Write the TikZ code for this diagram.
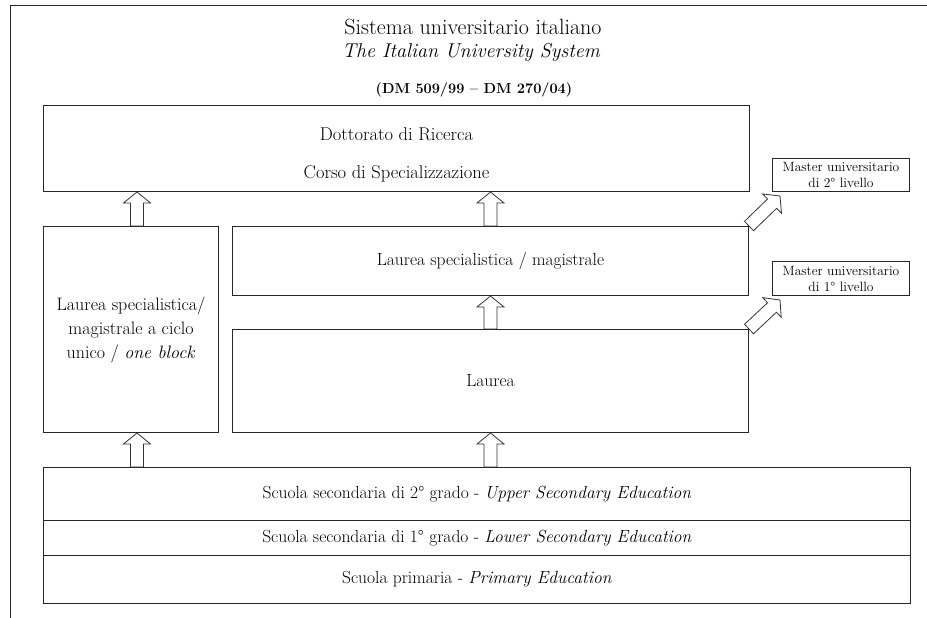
\documentclass[tikz,border=0pt]{standalone}
\usepackage{fontspec}
\usetikzlibrary{calc}

\tikzset{
  frame/.style={draw=black!85, line width=1pt, inner sep=0pt, anchor=north west, align=center,
    font=\fontsize{17.5}{24}\selectfont},
  master/.style={frame, font=\fontsize{13.5}{16}\selectfont},
  hollow/.style={draw=black!80, line width=0.8pt, line join=miter,
    to path={let \p1=(\tikztostart), \p2=(\tikztotarget) in
      ($(\p1)!6.5pt!90:(\p2)$) -- ($(\p2)!11pt!(\p1)!6.5pt!90:(\p2)$)
      -- ($(\p2)!11pt!(\p1)!13.5pt!90:(\p2)$) -- (\p2)
      -- ($(\p2)!11pt!(\p1)!13.5pt!-90:(\p2)$) -- ($(\p2)!11pt!(\p1)!6.5pt!-90:(\p2)$)
      -- ($(\p1)!6.5pt!-90:(\p2)$) -- cycle}}
}

\begin{document}
\begin{tikzpicture}[x=1pt, y=-1pt]
  \useasboundingbox (0,0) rectangle (927,618);
  \draw[black!85, line width=1pt] (927,6) -- (10,6) -- (10,618);

  % title
  \node[anchor=base, font=\fontsize{22}{26}\selectfont] (title) at (473,35) {Sistema universitario italiano};
  \node[anchor=base, font=\fontsize{20}{26}\selectfont\itshape] (titleen) at (471,58) {The Italian University System};
  \node[anchor=base, font=\fontsize{14.5}{16}\selectfont\bfseries] (decree) at (474,93) {(DM 509/99 -- DM 270/04)};

  % boxes
  \node[frame, minimum width=706pt, minimum height=86pt] (dott) at (43,105) {};
  \node[align=center, font=\fontsize{18.5}{25}\selectfont] (dotttxt) at ([yshift=-6pt]dott.center)
    {Dottorato di Ricerca\\[13pt]Corso di Specializzazione};
  \node[frame, minimum width=175pt, minimum height=206pt, font=\fontsize{18}{24}\selectfont] (left) at (43,226)
    {Laurea specialistica/\\magistrale a ciclo\\unico / \textit{one block}};
  \node[frame, minimum width=516pt, minimum height=69pt] (lspec) at (232,226) {Laurea specialistica / magistrale};
  \node[frame, minimum width=516pt, minimum height=103pt] (laurea) at (232,329) {Laurea};
  \node[frame, minimum width=867pt, minimum height=53pt] (sec2) at (43,467)
    {Scuola secondaria di 2° grado - \textit{Upper Secondary Education}};
  \node[frame, minimum width=867pt, minimum height=35pt] (sec1) at (43,520)
    {Scuola secondaria di 1° grado - \textit{Lower Secondary Education}};
  \node[frame, minimum width=867pt, minimum height=48pt] (prim) at (43,555)
    {Scuola primaria - \textit{Primary Education}};
  \node[master, minimum width=137pt, minimum height=33pt] (mast2) at (772,158) {Master universitario\\di 2° livello};
  \node[master, minimum width=137pt, minimum height=34pt] (mast1) at (772,261) {Master universitario\\di 1° livello};

  % arrows
  \draw[hollow] ([xshift=6pt]left.north) to ([xshift=6pt]left.north |- dott.south);
  \draw[hollow] (lspec.north) to (lspec.north |- dott.south);
  \draw[hollow] (laurea.north) to (lspec.south);
  \draw[hollow] ([xshift=6pt]left.south |- sec2.north) to ([xshift=6pt]left.south);
  \draw[hollow] (laurea.south |- sec2.north) to (laurea.south);
  \draw[hollow] (lspec.north east) to ([shift={(8pt,-4pt)}]mast2.south west);
  \draw[hollow] (laurea.north east) to ([shift={(8pt,-4pt)}]mast1.south west);
\end{tikzpicture}
\end{document}
